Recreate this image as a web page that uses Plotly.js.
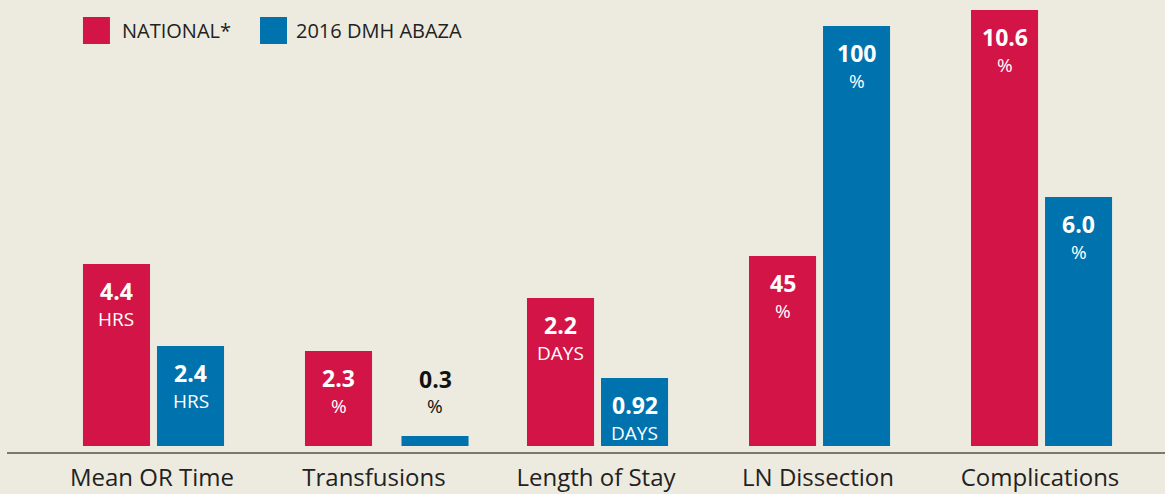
<!DOCTYPE html>
<html>
<head>
<meta charset="utf-8">
<script src="https://cdn.plot.ly/plotly-3.0.1.min.js"></script>
<style>html,body{margin:0;padding:0;background:#EDEBE0;}#chart{width:1165px;height:494px;}</style>
</head>
<body>
<div id="chart"></div>
<script>
// Data
const categories = ['Mean OR Time', 'Transfusions', 'Length of Stay', 'LN Dissection', 'Complications'];
const seriesNames = ['NATIONAL*', '2016 DMH ABAZA'];
const nationalValues = ['4.4', '2.3', '2.2', '45', '10.6'];
const dmhValues = ['2.4', '0.3', '0.92', '100', '6.0'];
const units = ['HRS', '%', 'DAYS', '%', '%'];
// Displayed bar heights (the original scales each category separately)
const nationalHeights = [182, 95, 148, 190, 436];
const dmhHeights = [100, 10, 68, 420, 249];

const RED = '#D31446';
const BLUE = '#0073AF';
const BG = '#EDEBE0';
const FONT = 'Open Sans, sans-serif';

const xIdx = categories.map((c, i) => i);
const barW = 0.302;
const natOffset = categories.map(() => -0.3108);
const dmhOffset = [0.0226, 0.1239, 0.0226, 0.0226, 0.0226];

const traces = [
  {type: 'bar', name: seriesNames[0], x: xIdx, y: nationalHeights, width: barW, offset: natOffset,
   marker: {color: RED}, hoverinfo: 'skip', showlegend: false},
  {type: 'bar', name: seriesNames[1], x: xIdx, y: dmhHeights, width: barW, offset: dmhOffset,
   marker: {color: BLUE}, hoverinfo: 'skip', showlegend: false}
];

const annotations = [];
function addLabels(heights, values, offsets) {
  heights.forEach((h, i) => {
    const x = i + offsets[i] + barW / 2;
    const inside = h > 40;
    const color = inside ? '#ffffff' : '#111111';
    annotations.push({x: x, y: h, xref: 'x', yref: 'y', text: '<b>' + values[i] + '</b>', showarrow: false,
      yanchor: 'middle', xanchor: 'center', yshift: inside ? -27 : 57, font: {family: FONT, size: 23, color: color}});
    annotations.push({x: x, y: h, xref: 'x', yref: 'y', text: units[i], showarrow: false,
      yanchor: 'middle', xanchor: 'center', yshift: inside ? -55 : 30, font: {family: FONT, size: 19, color: color}});
  });
}
addLabels(nationalHeights, nationalValues, natOffset);
addLabels(dmhHeights, dmhValues, dmhOffset);

// Legend built from series names
annotations.push({xref: 'paper', yref: 'paper', x: 0.0976, y: 0.9336, xanchor: 'left', yanchor: 'middle',
  text: seriesNames[0], showarrow: false, font: {family: FONT, size: 20, color: '#222'}});
annotations.push({xref: 'paper', yref: 'paper', x: 0.2479, y: 0.9336, xanchor: 'left', yanchor: 'middle',
  text: seriesNames[1], showarrow: false, font: {family: FONT, size: 20, color: '#222'}});

const shapes = [
  {type: 'rect', xref: 'paper', yref: 'paper', x0: 0.0656, x1: 0.0889, y0: 0.9027, y1: 0.9624, fillcolor: RED, line: {width: 0}},
  {type: 'rect', xref: 'paper', yref: 'paper', x0: 0.2185, x1: 0.2418, y0: 0.9027, y1: 0.9624, fillcolor: BLUE, line: {width: 0}}
];

const layout = {
  width: 1165, height: 494,
  margin: {l: 7, r: 0, t: 0, b: 42},
  paper_bgcolor: BG, plot_bgcolor: BG,
  barmode: 'overlay',
  showlegend: false,
  xaxis: {
    range: [-0.653, 4.563], tickvals: xIdx, ticktext: categories,
    showline: true, linecolor: '#7a7873', linewidth: 2, showgrid: false, zeroline: false,
    ticks: '', ticklabelstandoff: 3, tickfont: {family: FONT, size: 24, color: '#222'}, fixedrange: true
  },
  yaxis: {range: [-6, 446], visible: false, showgrid: false, zeroline: false, fixedrange: true},
  annotations: annotations,
  shapes: shapes
};

Plotly.newPlot('chart', traces, layout, {displayModeBar: false, staticPlot: true});
</script>
</body>
</html>
